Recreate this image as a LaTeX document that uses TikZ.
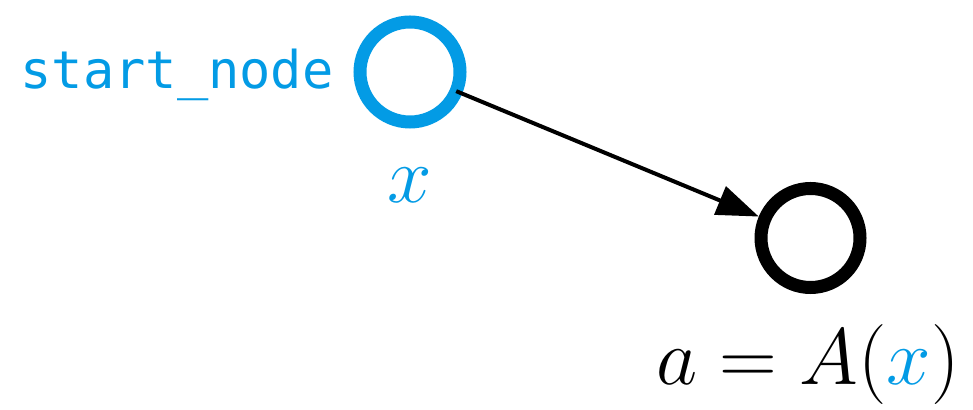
\RequirePackage{fix-cm}
\documentclass[tikz,border=0pt]{standalone}
\usepackage{fontspec}
\setmonofont{DejaVu Sans Mono}
\usetikzlibrary{arrows.meta}
\definecolor{accent}{RGB}{3,155,229}
\begin{document}
\begin{tikzpicture}[x=0.5pt,y=-0.5pt,
  startcirc/.style={circle,draw=accent,line width=6.5pt,minimum size=50pt,inner sep=0pt,outer sep=0pt},
  endcirc/.style={circle,draw=black,line width=6.5pt,minimum size=49.5pt,inner sep=0pt},
  edge/.style={line width=2pt,-{Triangle[length=21pt,width=15pt]}},
  monolabel/.style={text=accent,font=\fontsize{26}{30}\selectfont\ttfamily,inner sep=0pt},
  mathlabel/.style={font=\fontsize{40}{46}\selectfont,inner sep=0pt}]
\useasboundingbox (0,0) rectangle (973,410);
\node[startcirc] (s) at (410,72) {};
\node[endcirc] (t) at (810.5,238) {};
\draw[edge] (s) -- (t);
\node[monolabel,anchor=base east] (sl) at (334,89) {start\_node};
\node[mathlabel,anchor=base] (xl) at (410,203) {$\color{accent}x$};
\node[mathlabel,anchor=base] (al) at (808,385) {$a=A(\textcolor{accent}{x})$};
\end{tikzpicture}
\end{document}
